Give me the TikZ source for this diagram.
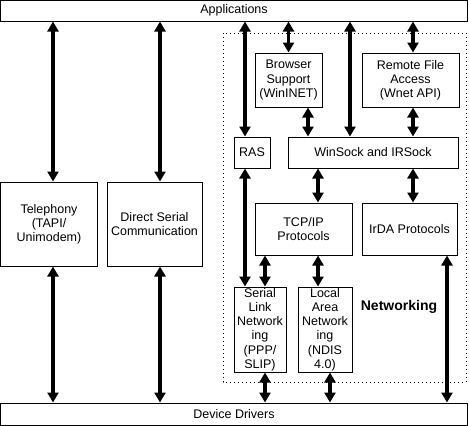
\documentclass[tikz,border=0pt]{standalone}
\usepackage{fontspec}
\setmainfont{Liberation Sans}
\usepackage{tikz}
\usetikzlibrary{arrows.meta,positioning}

\begin{document}
\begin{tikzpicture}[x=1pt,y=-1pt,
  box/.style={draw,line width=1pt,inner sep=0pt,align=center,font=\fontsize{12.5}{14.2}\selectfont},
  arrow/.style={{Triangle[length=10pt,width=11pt]}-{Triangle[length=10pt,width=11pt]},line width=3.5pt},
  frame/.style={line width=1pt,dash pattern=on 1pt off 3pt}]
  \useasboundingbox (0,0) rectangle (469,426);
  \draw[frame] (223,33) rectangle (466,382);
  \node[box,minimum width=467pt,minimum height=21pt] (apps) at (234,10.5) {Applications};
  \node[box,minimum width=467pt,minimum height=22pt] (drivers) at (234,414) {Device Drivers};
  \node[box,minimum width=97pt,minimum height=84pt] (tel) at (49,224) {Telephony\\(TAPI/\\Unimodem)};
  \node[box,minimum width=95pt,minimum height=84pt] (dsc) at (154.5,224) {Direct Serial\\Communication};
  \node[box,minimum width=67pt,minimum height=54pt] (browser) at (288.5,80) {Browser\\Support\\(WinINET)};
  \node[box,minimum width=97pt,minimum height=54pt] (remote) at (410.5,80) {Remote File\\Access\\(Wnet API)};
  \node[box,minimum width=36pt,minimum height=31pt] (ras) at (252,152.5) {RAS};
  \node[box,minimum width=170pt,minimum height=31pt] (winsock) at (373,152.5) {WinSock and IRSock};
  \node[box,minimum width=97pt,minimum height=52pt] (tcp) at (303.5,229) {TCP/IP\\Protocols};
  \node[box,minimum width=95pt,minimum height=52pt] (irda) at (409.5,229) {IrDA Protocols};
  \node[box,minimum width=52pt,minimum height=85pt] (serial) at (260,329.5) {Serial\\Link\\Network\\ing\\(PPP/\\SLIP)};
  \node[box,minimum width=54pt,minimum height=85pt] (lan) at (325,329.5) {Local\\Area\\Network\\ing\\(NDIS\\4.0)};
  \node[font=\bfseries\fontsize{14}{16}\selectfont] (netlabel) at (399,307) {Networking};
  % left column
  \draw[arrow] (53,0 |- apps.south) -- (53,0 |- tel.north);
  \draw[arrow] (53,0 |- tel.south) -- (53,0 |- drivers.north);
  \draw[arrow] (160,0 |- apps.south) -- (160,0 |- dsc.north);
  \draw[arrow] (160,0 |- dsc.south) -- (160,0 |- drivers.north);
  % networking
  \draw[arrow] (245,0 |- apps.south) -- (245,0 |- ras.north);
  \draw[arrow] (browser.north |- apps.south) -- (browser.north);
  \draw[arrow] (350,0 |- apps.south) -- (350,0 |- winsock.north);
  \draw[arrow] (413,0 |- apps.south) -- (413,0 |- remote.north);
  \draw[arrow] (308,0 |- browser.south) -- (308,0 |- winsock.north);
  \draw[arrow] (413,0 |- remote.south) -- (413,0 |- winsock.north);
  \draw[arrow] (245,0 |- ras.south) -- (245,0 |- serial.north);
  \draw[arrow] (318,0 |- winsock.south) -- (318,0 |- tcp.north);
  \draw[arrow] (413,0 |- winsock.south) -- (413,0 |- irda.north);
  \draw[arrow] (265,0 |- tcp.south) -- (265,0 |- serial.north);
  \draw[arrow] (318,0 |- tcp.south) -- (318,0 |- lan.north);
  \draw[arrow] (447,0 |- irda.south) -- (447,0 |- drivers.north);
  \draw[arrow] (265,0 |- serial.south) -- (265,0 |- drivers.north);
  \draw[arrow] (330,0 |- lan.south) -- (330,0 |- drivers.north);
\end{tikzpicture}
\end{document}
